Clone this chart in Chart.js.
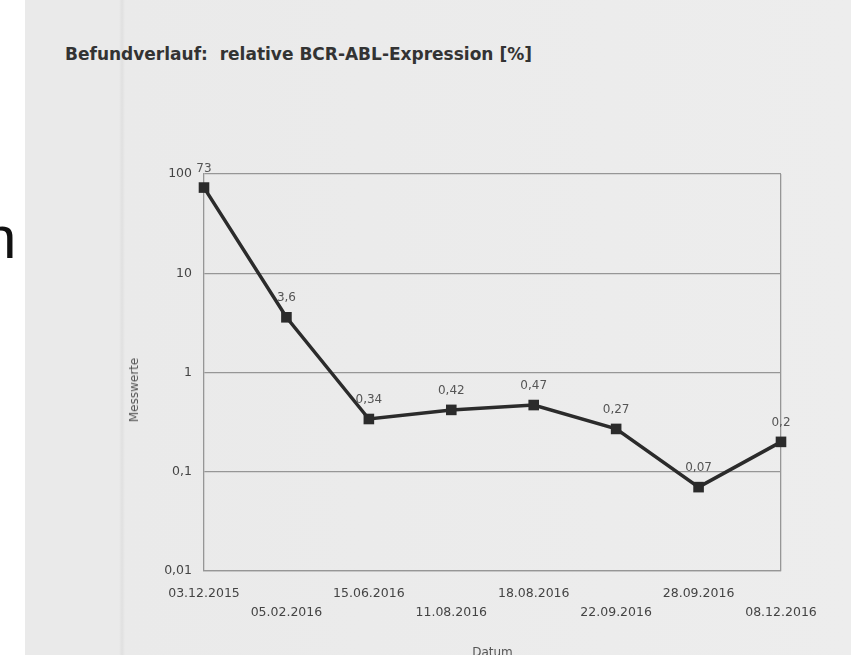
<!DOCTYPE html>
<html>
<head>
<meta charset="utf-8">
<script src="https://cdn.jsdelivr.net/npm/chart.js@4"></script>
<style>
html,body{margin:0;padding:0;width:851px;height:655px;overflow:hidden;background:#fff;}
#paper{position:absolute;left:25px;top:0;width:826px;height:655px;
  background:linear-gradient(to right,#eaeaea 0px,#eaeaea 94px,#e0e0e0 97px,#eaeaea 100px,#ededed 826px);}
#n{position:absolute;left:-17px;top:208px;font:60px/60px 'Liberation Sans',Arial,sans-serif;color:#111;}
#title{position:absolute;left:65px;top:44px;font:bold 17px 'DejaVu Sans',sans-serif;color:#333;white-space:pre;}
#ytitle{position:absolute;left:134px;top:390px;transform:translate(-50%,-50%) rotate(-90deg);
  font:12px 'DejaVu Sans',sans-serif;color:#555;white-space:nowrap;}
canvas{position:absolute;left:0;top:0;}
</style>
</head>
<body>
<div id="paper"></div>
<div id="n">n</div>
<div id="title">Befundverlauf:  relative BCR-ABL-Expression [%]</div>
<canvas id="c" width="851" height="680"></canvas>
<div id="ytitle">Messwerte</div>
<script>
const dates = ['03.12.2015','05.02.2016','15.06.2016','11.08.2016','18.08.2016','22.09.2016','28.09.2016','08.12.2016'];
const values = [73, 3.6, 0.34, 0.42, 0.47, 0.27, 0.07, 0.2];
const yTickValues = [0.01, 0.1, 1, 10, 100];
const yTickLabels = ['0,01', '0,1', '1', '10', '100'];

const FONT = "'DejaVu Sans', sans-serif";
const fmt = v => String(v).replace('.', ',');

const pointLabels = {
  id: 'pointLabels',
  afterDatasetsDraw(chart) {
    const ctx = chart.ctx;
    const meta = chart.getDatasetMeta(0);
    ctx.save();
    ctx.font = '12px ' + FONT;
    ctx.fillStyle = '#555';
    ctx.textAlign = 'center';
    ctx.textBaseline = 'middle';
    meta.data.forEach((p, i) => ctx.fillText(fmt(values[i]), p.x, p.y - 19));
    ctx.restore();
  }
};

new Chart(document.getElementById('c'), {
  type: 'line',
  data: {
    labels: dates,
    datasets: [{
      data: values,
      borderColor: '#2b2b2b',
      borderWidth: 3.5,
      pointStyle: 'rect',
      pointRadius: 7.5,
      pointBackgroundColor: '#2b2b2b',
      pointBorderWidth: 0,
      tension: 0,
      clip: false
    }]
  },
  options: {
    responsive: false,
    animation: false,
    layout: { padding: { left: 134, right: 70, top: 174, bottom: 9 } },
    plugins: { legend: { display: false }, tooltip: { enabled: false } },
    scales: {
      x: {
        type: 'category',
        offset: false,
        grid: { drawTicks: false, lineWidth: 1.3,
          color: c => c.index === dates.length - 1 ? '#969696' : 'rgba(0,0,0,0)' },
        border: { display: true, color: '#969696', width: 1.3 },
        ticks: { autoSkip: false, maxRotation: 0, minRotation: 0, padding: 13, color: '#444',
          font: { family: FONT, size: 12.5, lineHeight: 1.52 },
          callback: (v, i) => i % 2 ? ['', dates[i]] : dates[i] },
        title: { display: true, text: 'Datum', color: '#555', font: { family: FONT, size: 12 },
          padding: { top: 0, bottom: 11 } },
        afterFit: s => { s.height = 100; }
      },
      y: {
        type: 'logarithmic',
        min: 0.01, max: 100,
        afterBuildTicks: s => { s.ticks = yTickValues.map(v => ({ value: v })); },
        grid: { drawTicks: false, color: '#969696', lineWidth: 1.3 },
        border: { display: true, color: '#969696', width: 1.3 },
        ticks: { padding: 12, color: '#444', font: { family: FONT, size: 12.5 },
          callback: (v, i) => yTickLabels[i] },
        afterFit: s => { s.width = 70; }
      }
    }
  },
  plugins: [pointLabels]
});
</script>
</body>
</html>
